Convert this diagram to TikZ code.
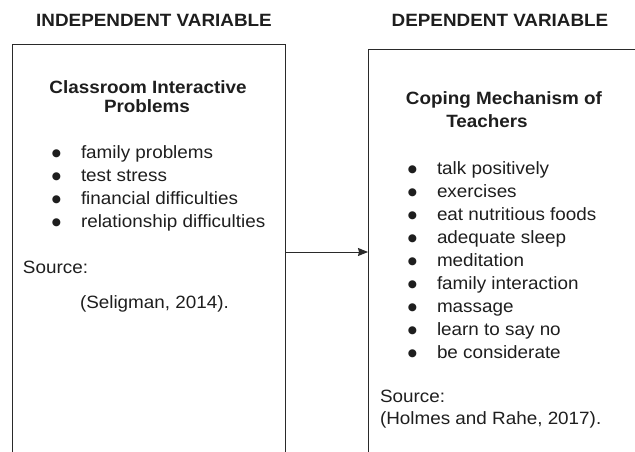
\documentclass[tikz,border=0pt]{standalone}
\usepackage{fontspec}
\setmainfont{Liberation Sans}[FakeStretch=1.06]
\newfontfamily\dejavu{DejaVu Sans}
\usetikzlibrary{arrows.meta}
\definecolor{ink}{HTML}{1E1E1E}
\definecolor{edge}{HTML}{2A2A2A}
\newcommand{\bigbul}{\raisebox{1.8pt}{\dejavu\fontsize{10.5}{10.5}\selectfont ●}}
\begin{document}
\begin{tikzpicture}[x=1pt,y=-1pt,
  every node/.style={inner sep=0pt, outer sep=0pt, text=ink, font=\fontsize{17.8}{21}\selectfont},
  frame/.style={draw=edge, line width=1pt, anchor=north west, minimum height=480pt},
  title/.style={anchor=base, font=\fontsize{17.8}{21}\selectfont\bfseries},
  head/.style={anchor=base, font=\fontsize{17.8}{21}\selectfont\bfseries},
  txt/.style={anchor=base west},
  item/.style={anchor=base west, execute at begin node={\llap{\bigbul\hspace{20pt}}}},
  link/.style={draw=edge, line width=1pt, -{Stealth[length=10pt,width=8pt,inset=1pt]}}
]
\useasboundingbox (0,0) rectangle (635,452);
\clip (0,0) rectangle (635,452);

% titles
\node[title] (t1) at (154,27) {INDEPENDENT VARIABLE};
\node[title] (t2) at (500,27) {DEPENDENT VARIABLE};

% boxes
\node[frame, minimum width=273pt] (box1) at (12,45) {};
\node[frame, minimum width=320pt] (box2) at (368,50) {};

% left box content
\node[head] (h1a) at (148,93) {Classroom Interactive};
\node[head] (h1b) at (147,113) {Problems};
\node[item] (l1) at (81,158) {family problems};
\node[item] (l2) at (81,181) {test stress};
\node[item] (l3) at (81,204) {financial difficulties};
\node[item] (l4) at (81,227) {relationship difficulties};
\node[txt] (s1) at (23,273) {Source:};
\node[txt] (s1b) at (80,308) {(Seligman, 2014).};

% right box content
\node[head] (h2a) at (504,105) {Coping Mechanism of};
\node[head] (h2b) at (487,128) {Teachers};
\node[item] (r1) at (437,174) {talk positively};
\node[item] (r2) at (437,197) {exercises};
\node[item] (r3) at (437,220) {eat nutritious foods};
\node[item] (r4) at (437,243) {adequate sleep};
\node[item] (r5) at (437,266) {meditation};
\node[item] (r6) at (437,289) {family interaction};
\node[item] (r7) at (437,312) {massage};
\node[item] (r8) at (437,335) {learn to say no};
\node[item] (r9) at (437,358) {be considerate};
\node[txt] (s2) at (380,402) {Source:};
\node[txt] (s2b) at (380,424) {(Holmes and Rahe, 2017).};

% connector
\coordinate (ay) at (0,252);
\draw[link] (box1.east |- ay) -- (box2.west |- ay);
\end{tikzpicture}
\end{document}
